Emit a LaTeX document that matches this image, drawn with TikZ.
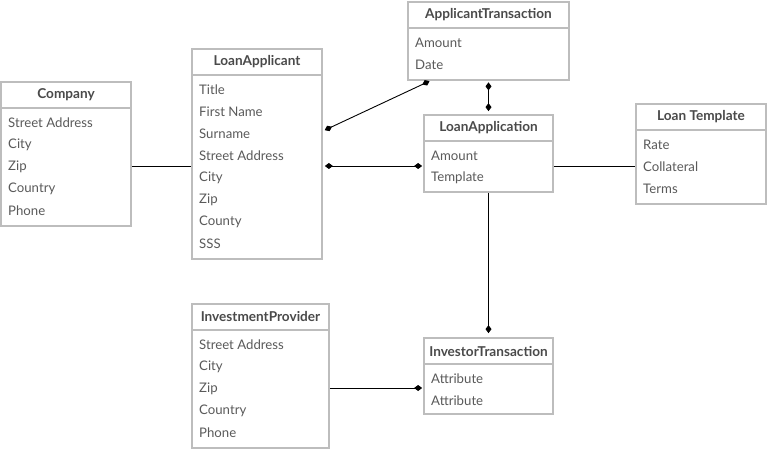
\documentclass[tikz,border=0pt]{standalone}
\usepackage{fontspec}
\setmainfont{Lato}
\usetikzlibrary{arrows.meta,calc}
\definecolor{boxgray}{HTML}{BDBDBD}
\definecolor{hdrtext}{HTML}{4A4A4A}
\definecolor{rowtext}{HTML}{5A5A5A}
\tikzset{
  ebox/.style={draw=boxgray, line width=1.8pt, fill=white, inner sep=0pt},
  sepline/.style={draw=boxgray, line width=1.8pt},
  hdr/.style={text=hdrtext, font=\fontsize{13.6}{15}\selectfont\bfseries, inner sep=0pt},
  rowt/.style={text=rowtext, font=\fontsize{13.2}{15}\selectfont, inner sep=0pt, anchor=west},
  conn/.style={draw=black, line width=0.9pt},
  dtip/.tip={Diamond[length=8pt,width=6pt]}
}
% name, cx, cy, w, h, header-line y, title, rows
\newcommand\entity[8]{%
  \node[ebox, minimum width=#4pt, minimum height=#5pt] (#1) at (#2,#3) {};
  \draw[sepline] ({#2-#4/2},#6) -- ({#2+#4/2},#6);
  \pgfmathsetmacro\ety{(#3-#5/2+#6)/2}
  \node[hdr] (#1-t) at (#2,\ety) {#7};
  \foreach \r [count=\i] in {#8} {
    \pgfmathsetmacro\ry{#6+14.5+22*(\i-1)}
    \node[rowt] (#1-r\i) at ({#2-#4/2+7},\ry) {\r};
  }%
}
\begin{document}
\begin{tikzpicture}[x=1pt,y=-1pt]
\useasboundingbox (0,0) rectangle (768,449);
\entity{co}{66}{154}{130}{144}{108}{Company}{Street Address,City,Zip,Country,Phone}
\entity{lap}{257}{154}{130}{210}{75}{LoanApplicant}{Title,First Name,Surname,Street Address,City,Zip,County,SSS}
\entity{at}{488.5}{41}{161}{78}{28}{ApplicantTransaction}{Amount,Date}
\entity{la}{488.5}{153.5}{129}{77}{141}{LoanApplication}{Amount,Template}
\entity{lt}{701}{154}{130}{100}{130}{Loan Template}{Rate,Collateral,Terms}
\entity{ip}{260.5}{376}{137}{144}{330}{InvestmentProvider}{Street Address,City,Zip,Country,Phone}
\entity{it}{488.5}{376}{129}{76}{364}{InvestorTransaction}{Attribute,Attribute}

% connectors
\draw[conn] ([yshift=-12pt]co.east) -- ([yshift=-12pt]lap.west);
\draw[conn, {dtip}-{dtip}, shorten <=2pt, shorten >=1pt] ([yshift=-12pt]lap.east) -- ([yshift=-12.5pt]la.west);
\draw[conn, {dtip}-{dtip}, shorten <=2pt, shorten >=0.5pt] ([yshift=23pt]lap.east) -- ([xshift=-58.5pt]at.south);
\draw[conn, {dtip}-{dtip}, shorten <=1.5pt, shorten >=3pt] (at.south) -- (la.north);
\draw[conn] ([yshift=-12.5pt]la.east) -- ([yshift=-12pt]lt.west);
\draw[conn, -{dtip}, shorten >=4pt] (la.south) -- (it.north);
\draw[conn, -{dtip}, shorten >=1pt] ([yshift=-12pt]ip.east) -- ([yshift=-12pt]it.west);
\end{tikzpicture}
\end{document}
